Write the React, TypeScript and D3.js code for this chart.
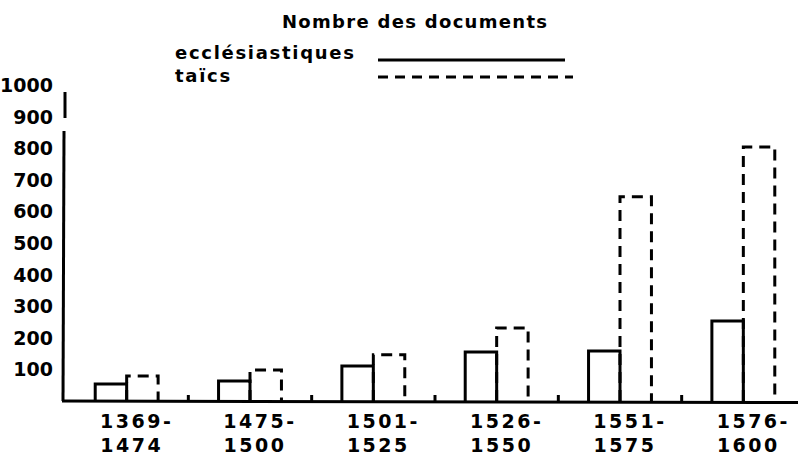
import React, { useEffect, useRef } from 'react';
import * as d3 from 'd3';

const periods = ['1369-1474', '1475-1500', '1501-1525', '1526-1550', '1551-1575', '1576-1600'];
const ecclesiastiques = [54, 63, 111, 155, 158, 253];
const laics = [79, 98, 146, 231, 646, 804];
const yTicks = [100, 200, 300, 400, 500, 600, 700, 800, 900, 1000];
const seriesNames = ['ecclésiastiques', 'taïcs'];

function App() {
  const chartRef = useRef<SVGSVGElement>(null);

  useEffect(() => {
    const width = 798;
    const height = 457;
    const base = 401;
    const font = "'DejaVu Sans', sans-serif";

    const svg = d3.select(chartRef.current);
    svg.selectAll('*').remove();
    svg.attr('width', width).attr('height', height);

    const x = d3.scaleBand<string>()
      .domain(periods)
      .range([65, 805])
      .paddingInner(0.49)
      .paddingOuter(0.245);

    const x1 = d3.scaleBand<string>()
      .domain(seriesNames)
      .range([0, x.bandwidth()]);

    const y = d3.scaleLinear().domain([0, 1000]).range([base, 85]);

    const rows = periods.map((p, i) => ({ p, e: ecclesiastiques[i], l: laics[i] }));

    // ---- title + legend
    svg.append('text')
      .attr('x', 282).attr('y', 28)
      .attr('font-family', font).attr('font-weight', 'bold')
      .attr('font-size', 18).attr('letter-spacing', 1.3)
      .text('Nombre des documents');

    const legend = svg.append('g').attr('font-family', font).attr('font-weight', 'bold').attr('font-size', 18);
    legend.append('text').attr('x', 175).attr('y', 59).attr('letter-spacing', 1.7).text(seriesNames[0]);
    legend.append('text').attr('x', 175).attr('y', 82).attr('letter-spacing', 1.7).text(seriesNames[1]);
    legend.append('line')
      .attr('x1', 378).attr('x2', 565).attr('y1', 60).attr('y2', 60)
      .attr('stroke', '#000').attr('stroke-width', 3);
    legend.append('line')
      .attr('x1', 378).attr('x2', 573).attr('y1', 77).attr('y2', 77)
      .attr('stroke', '#000').attr('stroke-width', 3)
      .attr('stroke-dasharray', '10 7');

    // ---- y labels (no real axis, hand drawn line)
    svg.append('g')
      .selectAll('text')
      .data(yTicks)
      .enter()
      .append('text')
      .attr('x', 53)
      .attr('y', d => y(d) + 7)
      .attr('text-anchor', 'end')
      .attr('font-family', font).attr('font-weight', 'bold')
      .attr('font-size', 19).attr('letter-spacing', 0)
      .text(d => d);

    const axis = svg.append('g').attr('stroke', '#000').attr('stroke-width', 3).attr('fill', 'none');
    axis.append('line').attr('x1', 65).attr('x2', 65).attr('y1', 92).attr('y2', 118);
    axis.append('line').attr('x1', 64).attr('x2', 63).attr('y1', 131).attr('y2', base);
    axis.append('line').attr('x1', 62).attr('x2', 798).attr('y1', base).attr('y2', base + 1.5);

    // small marks between the periods
    axis.selectAll('.sep')
      .data(periods.slice(0, -1))
      .enter()
      .append('line')
      .attr('x1', d => (x(d) as number) + x.bandwidth() / 2 + x.step() / 2)
      .attr('x2', d => (x(d) as number) + x.bandwidth() / 2 + x.step() / 2)
      .attr('y1', base - 6)
      .attr('y2', base);

    /* ------- bars: laïcs dashed, drawn first -------*/
    const open = (x0: number, x1v: number, top: number) =>
      `M${x0},${base} L${x0},${top} L${x1v},${top} L${x1v},${base}`;

    svg.append('g')
      .selectAll('path')
      .data(rows)
      .enter()
      .append('path')
      .attr('d', d => {
        const gx = x(d.p) as number;
        const a = gx + (x1(seriesNames[1]) as number);
        return open(a, a + x1.bandwidth(), y(d.l));
      })
      .attr('fill', 'none')
      .attr('stroke', '#000')
      .attr('stroke-width', 3)
      .attr('stroke-dasharray', '11 7');

    svg.append('g')
      .selectAll('path')
      .data(rows)
      .enter()
      .append('path')
      .attr('d', d => {
        const gx = x(d.p) as number;
        const a = gx + (x1(seriesNames[0]) as number);
        return open(a, a + x1.bandwidth(), y(d.e));
      })
      .attr('fill', 'none')
      .attr('stroke', '#000')
      .attr('stroke-width', 3);

    /* ------- period labels on two lines -------*/
    const labels = svg.append('g')
      .selectAll('text')
      .data(periods)
      .enter()
      .append('text')
      .attr('text-anchor', 'middle')
      .attr('font-family', font).attr('font-weight', 'bold')
      .attr('font-size', 19).attr('letter-spacing', 2.5);
    labels.append('tspan')
      .attr('x', d => (x(d) as number) + x.bandwidth() / 2 + 10)
      .attr('y', 428)
      .text(d => d.split('-')[0] + '-');
    labels.append('tspan')
      .attr('x', d => (x(d) as number) + x.bandwidth() / 2 + 5)
      .attr('y', 452)
      .text(d => d.split('-')[1]);
  }, []);

  return (
    <svg ref={chartRef} style={{ position: 'absolute', left: 0, top: 0, background: '#fff' }} />
  );
}

export default App;
